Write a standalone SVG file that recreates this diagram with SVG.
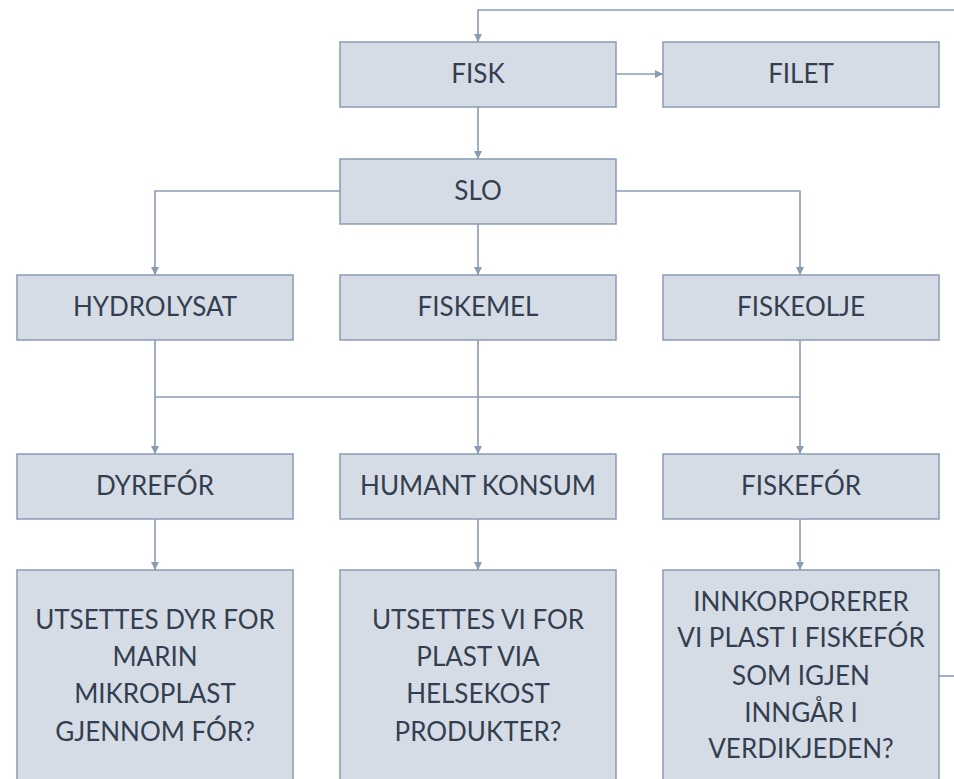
<svg xmlns="http://www.w3.org/2000/svg" width="954" height="779" viewBox="0 0 954 779">
<defs>
<marker id="ah" viewBox="0 0 10 10" refX="10" refY="5" markerWidth="8" markerHeight="8" markerUnits="userSpaceOnUse" orient="auto">
<path d="M0,0 L10,5 L0,10 Z" fill="#8a9bb4"/>
</marker>
<style>
.box{fill:#d6dce5;stroke:#8a9bb4;stroke-width:1.5}
.t{font-family:Lato,"Open Sans","Liberation Sans",sans-serif;font-size:26px;fill:#333f50;text-anchor:middle}
.c{fill:none;stroke:#8a9bb4;stroke-width:1.6}
</style>
</defs>
<rect width="954" height="779" fill="#ffffff"/>
<g id="connectors">
<path class="c" d="M954,10 H478 V42" marker-end="url(#ah)"/>
<path class="c" d="M616,74 H663" marker-end="url(#ah)"/>
<path class="c" d="M478,107 V159" marker-end="url(#ah)"/>
<path class="c" d="M340,191 H155 V275" marker-end="url(#ah)"/>
<path class="c" d="M616,191 H800 V275" marker-end="url(#ah)"/>
<path class="c" d="M478,224 V275" marker-end="url(#ah)"/>
<path class="c" d="M155,340 V454" marker-end="url(#ah)"/>
<path class="c" d="M800,340 V454" marker-end="url(#ah)"/>
<path class="c" d="M478,340 V454" marker-end="url(#ah)"/>
<path class="c" d="M155,397 H800"/>
<path class="c" d="M155,519 V570" marker-end="url(#ah)"/>
<path class="c" d="M478,519 V570" marker-end="url(#ah)"/>
<path class="c" d="M800,519 V570" marker-end="url(#ah)"/>
<path class="c" d="M939,676 H954"/>
</g>
<g id="fisk"><rect class="box" x="340" y="42" width="276" height="65"/><text class="t" x="478" y="83">FISK</text></g>
<g id="filet"><rect class="box" x="663" y="42" width="276" height="65"/><text class="t" x="801" y="83">FILET</text></g>
<g id="slo"><rect class="box" x="340" y="159" width="276" height="65"/><text class="t" x="478" y="200">SLO</text></g>
<g id="hydrolysat"><rect class="box" x="17" y="275" width="276" height="65"/><text class="t" x="155" y="316">HYDROLYSAT</text></g>
<g id="fiskemel"><rect class="box" x="340" y="275" width="276" height="65"/><text class="t" x="478" y="316">FISKEMEL</text></g>
<g id="fiskeolje"><rect class="box" x="663" y="275" width="276" height="65"/><text class="t" x="801" y="316">FISKEOLJE</text></g>
<g id="dyrefor"><rect class="box" x="17" y="454" width="276" height="65"/><text class="t" x="155" y="495">DYREFÓR</text></g>
<g id="humant"><rect class="box" x="340" y="454" width="276" height="65"/><text class="t" x="478" y="495">HUMANT KONSUM</text></g>
<g id="fiskefor"><rect class="box" x="663" y="454" width="276" height="65"/><text class="t" x="801" y="495">FISKEFÓR</text></g>
<g id="q1"><rect class="box" x="17" y="570" width="276" height="220"/>
<text class="t" x="155" y="629">UTSETTES DYR FOR</text>
<text class="t" x="155" y="666">MARIN</text>
<text class="t" x="155" y="703">MIKROPLAST</text>
<text class="t" x="155" y="741">GJENNOM FÓR?</text></g>
<g id="q2"><rect class="box" x="340" y="570" width="276" height="220"/>
<text class="t" x="478" y="629">UTSETTES VI FOR</text>
<text class="t" x="478" y="666">PLAST VIA</text>
<text class="t" x="478" y="703">HELSEKOST</text>
<text class="t" x="478" y="741">PRODUKTER?</text></g>
<g id="q3"><rect class="box" x="663" y="570" width="276" height="220"/>
<text class="t" x="801" y="611">INNKORPORERER</text>
<text class="t" x="801" y="647">VI PLAST I FISKEFÓR</text>
<text class="t" x="801" y="685">SOM IGJEN</text>
<text class="t" x="801" y="722">INNGÅR I</text>
<text class="t" x="801" y="758">VERDIKJEDEN?</text></g>
</svg>
